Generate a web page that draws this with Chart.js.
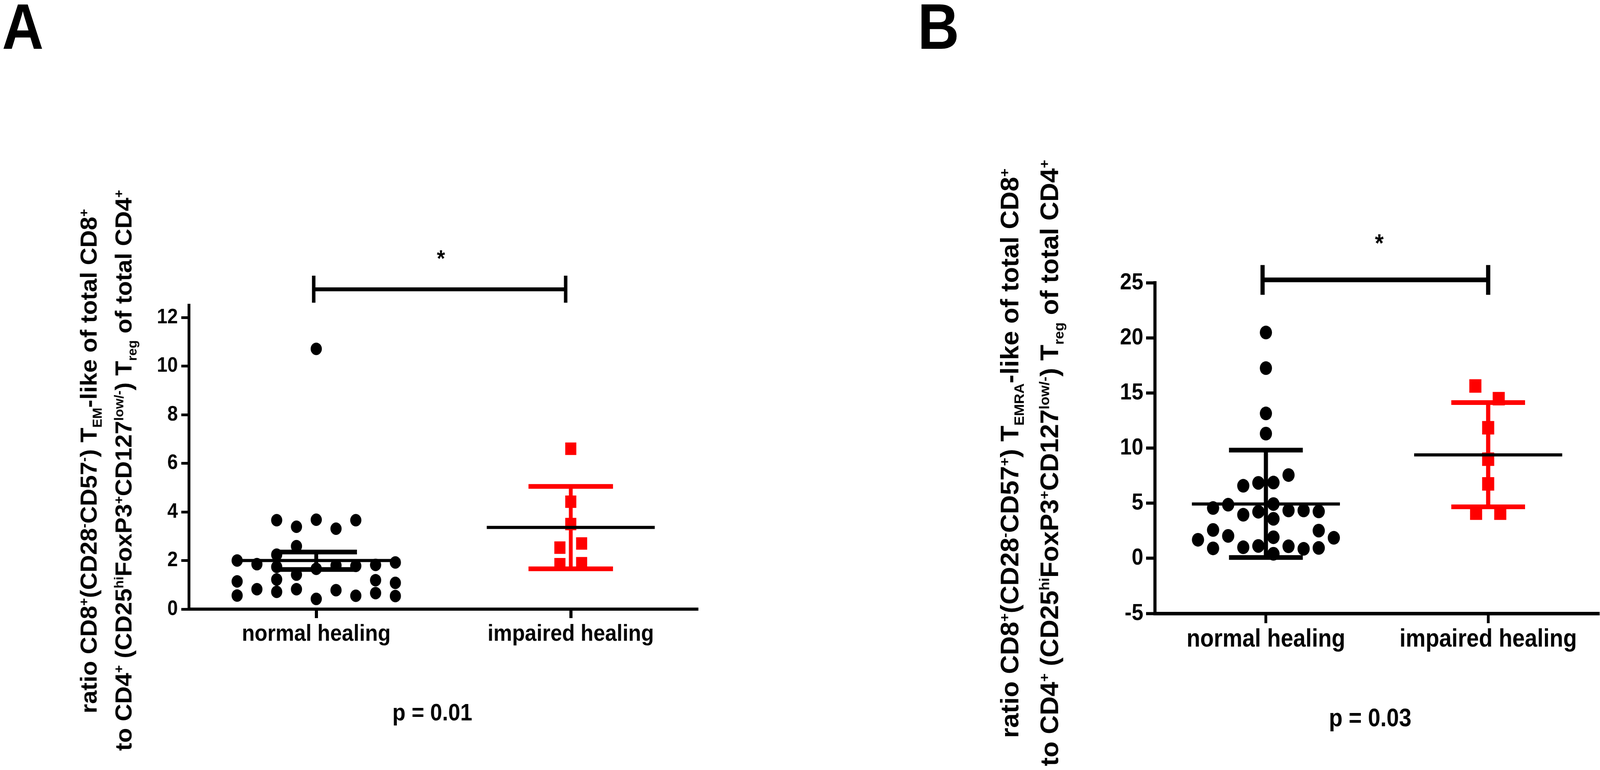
<!DOCTYPE html>
<html>
<head>
<meta charset="utf-8">
<script src="https://cdn.jsdelivr.net/npm/chart.js@4.4.1/dist/chart.umd.min.js"></script>
<style>
  html, body { margin: 0; padding: 0; background: #fff; overflow: hidden; }
  #page { position: relative; width: 4589px; height: 1972px; overflow: hidden; background: #fff;
          font-family: "Liberation Sans", Arial, sans-serif; font-weight: bold; color: #000;
          transform-origin: 0 0; }
  canvas { position: absolute; top: 0; }
  .panel { position: absolute; font-size: 165px; line-height: 165px; }
  .yline { position: absolute; white-space: nowrap; line-height: 1; transform-origin: 0 0;
           transform: rotate(-90deg) scale(1, 1.08); }
  .yline sup, .yline sub { font-size: 0.55em; line-height: 0; }
</style>
</head>
<body>
<div id="page">
  <canvas id="chartA" width="2300" height="1972" style="left:0px;width:2300px;height:1972px;"></canvas>
  <canvas id="chartB" width="1989" height="1972" style="left:2600px;width:1989px;height:1972px;"></canvas>
  <div class="panel" style="left:6px;top:-14px;">A</div>
  <div class="panel" style="left:2632px;top:-14px;">B</div>
  <div class="yline" style="left:221px;top:1827px;font-size:62px;">ratio CD8<sup>+</sup>(CD28<sup>-</sup>CD57<sup>-</sup>) T<sub>EM</sub>-like of total CD8<sup>+</sup></div>
  <div class="yline" style="left:321px;top:1923px;font-size:62px;">to CD4<sup>+</sup> (CD25<sup>hi</sup>FoxP3<sup>+</sup>CD127<sup>low/-</sup>) T<sub>reg</sub> of total CD4<sup>+</sup></div>
  <div class="yline" style="left:2859px;top:1890px;font-size:67px;">ratio CD8<sup>+</sup>(CD28<sup>-</sup>CD57<sup>+</sup>) T<sub>EMRA</sub>-like of total CD8<sup>+</sup></div>
  <div class="yline" style="left:2973px;top:1962px;font-size:67px;">to CD4<sup>+</sup> (CD25<sup>hi</sup>FoxP3<sup>+</sup>CD127<sup>low/-</sup>) T<sub>reg</sub> of total CD4<sup>+</sup></div>
</div>
<script>
// ---------------- DATA ----------------
const categories = ['normal healing', 'impaired healing'];

// Panel A: CD8+ TEM-like / Treg ratio
const aNormalValues = [2.00, 1.14, 0.56, 1.85, 0.82, 3.66, 2.24, 1.74, 1.22, 0.71,
                       3.39, 2.59, 1.42, 0.82, 10.71, 3.68, 1.66, 0.42, 3.31, 1.80,
                       0.78, 3.66, 1.78, 0.55, 1.82, 1.19, 0.66, 1.92, 1.08, 0.54];
const aNormalSlots  = [-4, -4, -4, -3, -3, -2, -2, -2, -2, -2,
                       -1, -1, -1, -1, 0, 0, 0, 0, 1, 1,
                       1, 2, 2, 2, 3, 3, 3, 4, 4, 4];
const aImpairedValues = [6.60, 4.42, 3.50, 2.53, 2.70, 1.85, 1.89];
const aImpairedSlots  = [0, 0, 0, -0.55, 0.55, -0.55, 0.55];
const aMeans   = [2.00, 3.36];
const aErrLow  = [1.63, 1.66];
const aErrHigh = [2.35, 5.05];
const aYTicks  = [0, 2, 4, 6, 8, 10, 12];
const aPValue  = 'p = 0.01';

// Panel B: CD8+ TEMRA-like / Treg ratio
const bNormalValues = [20.48, 17.25, 13.14, 11.31, 7.55, 4.34, 1.09, 6.58, 3.95, 1.00,
                       6.84, 4.22, 1.12, 6.87, 4.92, 3.58, 1.91, 0.41, 1.68, 4.56,
                       2.57, 0.90, 4.86, 2.03, 4.34, 0.86, 4.25, 2.51, 0.94, 1.86];
const bNormalSlots  = [0, 0, 0, 0, 1.5, 1.5, 1.5, -1.5, -1.5, -1.5,
                       -0.5, -0.5, -0.5, 0.5, 0.5, 0.5, 0.5, 0.5, -4.5, -3.5,
                       -3.5, -3.5, -2.5, -2.5, 2.5, 2.5, 3.5, 3.5, 3.5, 4.5];
const bImpairedValues = [15.63, 14.48, 11.84, 8.99, 6.75, 4.10, 4.10];
const bImpairedSlots  = [-0.85, 0.7, 0, 0, 0, -0.8, 0.8];
const bMeans   = [4.93, 9.38];
const bErrLow  = [0.07, 4.67];
const bErrHigh = [9.81, 14.13];
const bYTicks  = [-5, 0, 5, 10, 15, 20, 25];
const bPValue  = 'p = 0.03';

// ---------------- PAGE SCALE (fit the 4589x1972 design to the viewport) ----------------
const PAGE_W = 4589, PAGE_H = 1972;
const sx = (window.innerWidth || PAGE_W) / PAGE_W;
const sy = (window.innerHeight || PAGE_H) / PAGE_H;
document.getElementById('page').style.transform = 'scale(' + sx + ',' + sy + ')';
const DPR = Math.max(1, (window.devicePixelRatio || 1) * Math.max(sx, sy));

// ---------------- HELPERS ----------------
const FONT = '"Liberation Sans", Arial, sans-serif';
const BLACK = '#000000';
const RED = '#ff0000';

function pointData(values, slots, cat, slotW) {
  return values.map((v, i) => ({ x: cat + slots[i] * slotW, y: v }));
}
function hLine(cat, half, y) {
  return [{ x: cat - half, y: y }, { x: cat + half, y: y }];
}
function capData(cat, half, lo, hi) {
  return [{ x: cat - half, y: hi }, { x: cat + half, y: hi }, { x: null, y: null },
          { x: cat - half, y: lo }, { x: cat + half, y: lo }];
}
function vLine(cat, lo, hi) {
  return [{ x: cat, y: lo }, { x: cat, y: hi }];
}
function bracketData(x1, x2, yBar, yLo, yHi) {
  return [{ x: x1, y: yLo }, { x: x1, y: yHi }, { x: null, y: null },
          { x: x1, y: yBar }, { x: x2, y: yBar }, { x: null, y: null },
          { x: x2, y: yLo }, { x: x2, y: yHi }];
}
function lineDs(data, color, width, order) {
  return { data, showLine: true, borderColor: color, backgroundColor: color, borderWidth: width,
           pointRadius: 0, pointHoverRadius: 0, spanGaps: false, clip: false, order, tension: 0 };
}

const textPlugin = {
  id: 'panelText',
  afterDatasetsDraw(chart, args, opts) {
    const { ctx } = chart;
    const xs = chart.scales.x, ys = chart.scales.y;
    ctx.save();
    ctx.fillStyle = BLACK;
    ctx.textAlign = 'center';
    ctx.textBaseline = 'alphabetic';
    for (const t of opts.items || []) {
      ctx.font = 'bold ' + t.size + 'px ' + FONT;
      const px = xs.getPixelForValue(t.x);
      const py = (t.yVal !== undefined) ? ys.getPixelForValue(t.yVal) : t.yPx;
      ctx.fillText(t.text, px, py);
    }
    ctx.restore();
  }
};

function buildPanel(id, p) {
  const datasets = [
    lineDs(bracketData(p.bracket[0], p.bracket[1], p.bracket[2], p.bracket[3], p.bracket[4]), BLACK, p.bracketW, 0),
    lineDs(hLine(1, p.meanHalf, p.means[0]), BLACK, p.meanW, 1),
    lineDs(hLine(2, p.meanHalf, p.means[1]), BLACK, p.meanW, 1),
    lineDs(capData(1, p.capHalf[0], p.errLow[0], p.errHigh[0]), BLACK, p.capW, 2),
    lineDs(vLine(1, p.errLow[0], p.errHigh[0]), BLACK, p.vW, 2),
    lineDs(capData(2, p.capHalf[1], p.errLow[1], p.errHigh[1]), RED, p.capW, 2),
    lineDs(vLine(2, p.errLow[1], p.errHigh[1]), RED, p.vW, 2),
    { data: pointData(p.normal, p.normalSlots, 1, p.slotW), showLine: false, pointStyle: 'circle',
      pointRadius: p.circleR, pointHoverRadius: p.circleR, pointBackgroundColor: BLACK,
      pointBorderWidth: 0, pointBorderColor: BLACK, clip: false, order: 3 },
    { data: pointData(p.impaired, p.impairedSlots, 2, p.slotW), showLine: false, pointStyle: 'rect',
      pointRadius: p.rectR, pointHoverRadius: p.rectR, pointBackgroundColor: RED,
      pointBorderWidth: 0, pointBorderColor: RED, clip: false, order: 3 }
  ];
  return new Chart(document.getElementById(id), {
    type: 'scatter',
    data: { datasets },
    plugins: [textPlugin],
    options: {
      responsive: false,
      animation: false,
      devicePixelRatio: DPR,
      events: [],
      layout: { autoPadding: false, padding: { left: 0, top: p.top, right: p.right, bottom: 0 } },
      plugins: {
        legend: { display: false },
        tooltip: { enabled: false },
        panelText: { items: p.texts }
      },
      scales: {
        x: {
          type: 'linear', min: 0.5, max: 2.5, bounds: 'data',
          afterBuildTicks: s => { s.ticks = categories.map((c, i) => ({ value: i + 1 })); },
          afterFit: s => { s.height = p.xH; },
          grid: { display: true, drawOnChartArea: false, drawTicks: true, tickLength: p.xTickLen,
                  tickWidth: p.xTickW, tickColor: BLACK, color: BLACK },
          border: { display: true, color: BLACK, width: p.axisW },
          ticks: { autoSkip: false, maxRotation: 0, minRotation: 0, padding: p.xPad, color: BLACK,
                   font: { family: FONT, weight: 'bold', size: p.xFont },
                   callback: v => categories[Math.round(v) - 1] }
        },
        y: {
          type: 'linear', min: p.yMin, max: p.yMax, bounds: 'data',
          afterBuildTicks: s => { s.ticks = p.yTicks.map(v => ({ value: v })); },
          afterFit: s => { s.width = p.yW; },
          grid: { display: true, drawOnChartArea: false, drawTicks: true, tickLength: p.yTickLen,
                  tickWidth: p.yTickW, tickColor: BLACK, color: BLACK },
          border: { display: true, color: BLACK, width: p.axisW },
          ticks: { autoSkip: false, padding: p.yPad, color: BLACK,
                   font: { family: FONT, weight: 'bold', size: p.yFont },
                   callback: v => String(v) }
        }
      }
    }
  });
}

buildPanel('chartA', {
  normal: aNormalValues, normalSlots: aNormalSlots,
  impaired: aImpairedValues, impairedSlots: aImpairedSlots,
  means: aMeans, errLow: aErrLow, errHigh: aErrHigh, yTicks: aYTicks,
  yMin: 0, yMax: 12.5,
  slotW: 0.0777, meanHalf: 0.33, capHalf: [0.16, 0.166],
  circleR: 16, rectR: 22.5,
  meanW: 8, capW: 12, vW: 11, bracketW: 10, axisW: 8,
  bracket: [0.99, 1.98, 13.16, 12.61, 13.72],
  top: 782, right: 298, xH: 412, yW: 542,
  xTickLen: 23, xTickW: 9, yTickLen: 22, yTickW: 7,
  xPad: 5, yPad: 10, xFont: 60, yFont: 54,
  texts: [
    { text: '*', x: 1.49, yVal: 14.11, size: 60 },
    { text: aPValue, x: 1.456, yPx: 1845, size: 62 }
  ]
});

buildPanel('chartB', {
  normal: bNormalValues, normalSlots: bNormalSlots,
  impaired: bImpairedValues, impairedSlots: bImpairedSlots,
  means: bMeans, errLow: bErrLow, errHigh: bErrHigh, yTicks: bYTicks,
  yMin: -5, yMax: 25,
  slotW: 0.0679, meanHalf: 0.333, capHalf: [0.166, 0.166],
  circleR: 17.5, rectR: 24.5,
  meanW: 8, capW: 12, vW: 12, bracketW: 12, axisW: 9,
  bracket: [0.985, 2.0, 25.26, 23.9, 26.6],
  top: 724, right: 2, xH: 401, yW: 712,
  xTickLen: 25, xTickW: 8, yTickLen: 25, yTickW: 8,
  xPad: 4, yPad: 8, xFont: 64, yFont: 60,
  texts: [
    { text: '*', x: 1.51, yVal: 27.80, size: 64 },
    { text: bPValue, x: 1.469, yPx: 1860, size: 64 }
  ]
});
</script>
</body>
</html>
